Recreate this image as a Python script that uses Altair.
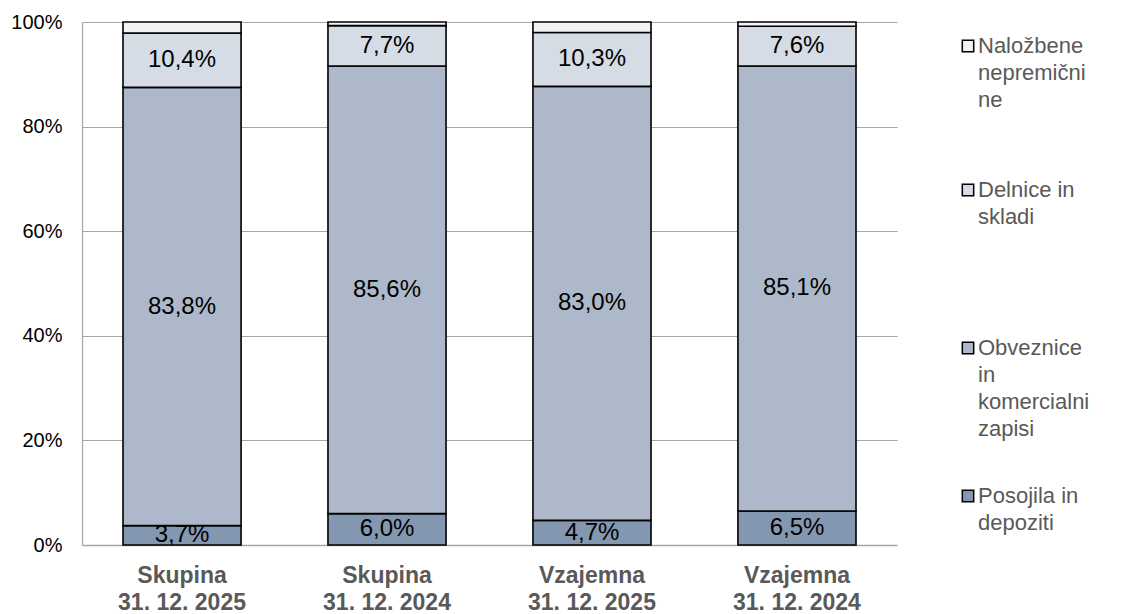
import altair as alt
import pandas as pd

categories = ["Skupina\n31. 12. 2025", "Skupina\n31. 12. 2024", "Vzajemna\n31. 12. 2025", "Vzajemna\n31. 12. 2024"]
series = ["Posojila in depoziti", "Obveznice in komercialni zapisi", "Delnice in skladi", "Naložbene nepremičnine"]
posojila = [3.7, 6.0, 4.7, 6.5]
obveznice = [83.8, 85.6, 83.0, 85.1]
delnice = [10.4, 7.7, 10.3, 7.6]
nalozbene = [2.1, 0.7, 2.0, 0.8]
colors = ["#8497B0", "#ADB9CA", "#D6DCE5", "#F2F2F2"]
legend_text = ["Posojila in\ndepoziti", "Obveznice\nin\nkomercialni\nzapisi", "Delnice in\nskladi", "Naložbene\nnepremični\nne"]
legend_y = [474, 326, 168, 24]
y_ticks = [0, 20, 40, 60, 80, 100]

rows = []
for i, c in enumerate(categories):
    vals = [posojila[i], obveznice[i], delnice[i], nalozbene[i]]
    start = 0.0
    for j, s in enumerate(series):
        v = vals[j]
        rows.append({
            "cat": c, "series": s, "order": j, "value": v,
            "mid": start + v / 2,
            "label": ("%.1f" % v).replace(".", ",") + "%" if j < 3 else "",
        })
        start += v
df = pd.DataFrame(rows)

W, H = 815, 523
FONT = "Liberation Sans"

x = alt.X("cat:N", sort=categories, title=None,
          scale=alt.Scale(paddingInner=0.424, paddingOuter=0.2),
          axis=alt.Axis(labelExpr="split(datum.label, '\\n')", labelAngle=0,
                        labelFontWeight="bold", labelColor="#595959",
                        labelFontSize=23, labelFont=FONT, labelLineHeight=27,
                        labelPadding=19, ticks=False, domainColor="#A6A6A6",
                        domainWidth=1.5))
y = alt.Y("value:Q", stack="zero", title=None,
          scale=alt.Scale(domain=[0, 100], nice=False),
          axis=alt.Axis(values=y_ticks, labelExpr="datum.value + '%'",
                        labelFontSize=20, labelFont=FONT, labelColor="#000000",
                        labelPadding=20, ticks=False, grid=True,
                        gridColor="#A6A6A6", gridWidth=1.2,
                        domainColor="#A6A6A6", domainWidth=1.2))

bars = alt.Chart(df).mark_bar(stroke="#000000", strokeWidth=1.6).encode(
    x=x,
    y=y,
    color=alt.Color("series:N", sort=series,
                    scale=alt.Scale(domain=series, range=colors), legend=None),
    order=alt.Order("order:Q"),
)

labels = alt.Chart(df).mark_text(fontSize=24, font=FONT, color="#000000").encode(
    x=alt.X("cat:N", sort=categories),
    y=alt.Y("mid:Q"),
    text="label:N",
)

main = alt.layer(bars, labels)

leg = pd.DataFrame({"series": series, "text": legend_text, "py": legend_y,
                    "sx": [886] * 4, "tx": [896] * 4})

leg_sq = alt.Chart(leg).mark_square(size=130, stroke="#000000", strokeWidth=1.5, opacity=1).encode(
    x=alt.X("sx:Q", scale=None, axis=None),
    y=alt.Y("py:Q", scale=None, axis=None),
    fill=alt.Fill("series:N", scale=alt.Scale(domain=series, range=colors), legend=None),
)
leg_tx = alt.Chart(leg).mark_text(align="left", baseline="middle", fontSize=22, font=FONT,
                                  color="#595959", lineBreak="\n", lineHeight=27).encode(
    x=alt.X("tx:Q", scale=None, axis=None),
    y=alt.Y("py:Q", scale=None, axis=None),
    text="text:N",
)

legend = alt.layer(leg_sq, leg_tx)

chart = alt.layer(main, legend).resolve_scale(
    x="independent", y="independent"
).properties(
    width=W, height=H,
    autosize=alt.AutoSizeParams(type="none"),
    padding={"left": 74, "top": 14, "right": 229, "bottom": 70},
).configure_view(stroke=None).configure_axis(labelFont=FONT)

chart.save("out.html", embed_options={"renderer": "svg", "actions": False})
